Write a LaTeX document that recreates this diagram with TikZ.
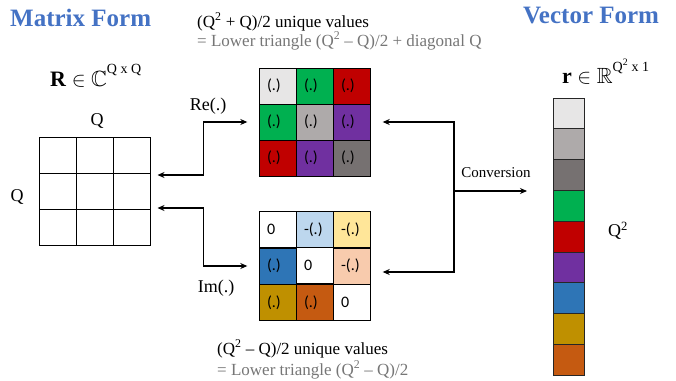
\documentclass[tikz,border=0pt]{standalone}
\usepackage{fontspec}
\usepackage{amssymb}
\setmainfont{Liberation Serif}
\newfontfamily\cellfont{Carlito}
\usetikzlibrary{matrix,arrows.meta}

\definecolor{titleblue}{HTML}{4472C4}
\definecolor{notegray}{HTML}{767676}
\definecolor{gLight}{HTML}{E7E6E6}
\definecolor{gMid}{HTML}{AEAAAA}
\definecolor{gDark}{HTML}{767171}
\definecolor{cGreen}{HTML}{00B050}
\definecolor{cRed}{HTML}{C00000}
\definecolor{cPurple}{HTML}{7030A0}
\definecolor{cBlue}{HTML}{2E75B6}
\definecolor{cLBlue}{HTML}{BDD7EE}
\definecolor{cLYellow}{HTML}{FFE699}
\definecolor{cPeach}{HTML}{F8CBAD}
\definecolor{cGold}{HTML}{BF9000}
\definecolor{cOrange}{HTML}{C55A11}

\tikzset{
  title/.style={font=\fontsize{25}{28}\selectfont\bfseries, text=titleblue, inner sep=0pt},
  note/.style={font=\fontsize{17}{20}\selectfont, inner sep=0pt},
  lbl/.style={font=\fontsize{18}{20}\selectfont, inner sep=0pt},
  valcell/.style={draw=black, line width=1pt, minimum height=36pt, text width=21pt,
    inner xsep=8pt, inner ysep=0pt, align=left, font=\cellfont\fontsize{16}{18}\selectfont},
  blank/.style={draw=black, line width=1pt, minimum width=37pt, minimum height=36pt, inner sep=0pt},
  vcell/.style={draw=black!85, line width=1pt, minimum width=31pt, minimum height=30.8pt, inner sep=0pt},
  biarrow/.style={line width=1.3pt, {Stealth[length=7pt,width=6pt]}-{Stealth[length=7pt,width=6pt]}},
  onearrow/.style={line width=1.3pt, -{Stealth[length=7pt,width=6pt]}}
}

\begin{document}
\begin{tikzpicture}[x=1pt,y=-1pt]
\useasboundingbox (0,0) rectangle (676,380);

% headings
\node[title, anchor=base west] (mf) at (10,26) {Matrix Form};
\node[title, anchor=base west] (vf) at (523,23) {Vector Form};

% notes on the real and imaginary parts
\node[note, anchor=base west] (n1) at (197,27) {(Q\textsuperscript{2} + Q)/2 unique values};
\node[note, anchor=base west, text=notegray] (n2) at (197,46) {= Lower triangle (Q\textsuperscript{2} -- Q)/2 + diagonal Q};
\node[note, anchor=base west] (n3) at (217,354) {(Q\textsuperscript{2} -- Q)/2 unique values};
\node[note, anchor=base west, text=notegray] (n4) at (217,375) {= Lower triangle (Q\textsuperscript{2} -- Q)/2};

% set memberships
\node[anchor=base west, inner sep=0pt, font=\fontsize{22}{26}\selectfont] (Rset) at (50,86)
  {\textbf{R} $\in$ $\mathbb{C}$\raisebox{13pt}{\fontsize{14}{16}\selectfont Q x Q}};
\node[anchor=base west, inner sep=0pt, font=\fontsize{22}{26}\selectfont] (rset) at (562,83)
  {\textbf{r} $\in$ $\mathbb{R}$\raisebox{12pt}{\fontsize{14}{16}\selectfont Q\textsuperscript{2} x 1}};

% complex matrix R
\foreach \r in {1,2,3}
  \foreach \c in {1,2,3}
    \node[blank] (m-\r-\c) at ({39+37*(\c-0.5)}, {137+36*(\r-0.5)}) {};
\node[lbl] (qtop) at (97,121) {Q};
\node[lbl] (qleft) at (17,197) {Q};

% real part
\matrix (re) [matrix of nodes, inner sep=0pt, column sep=-1pt, row sep=-1pt,
  nodes={valcell}] at (314.5,122) {
  |[fill=gLight]| (.) & |[fill=cGreen]| (.) & |[fill=cRed]| (.) \\
  |[fill=cGreen]| (.) & |[fill=gMid]| (.) & |[fill=cPurple]| (.) \\
  |[fill=cRed]| (.) & |[fill=cPurple]| (.) & |[fill=gDark]| (.) \\
};

% imaginary part
\matrix (im) [matrix of nodes, inner sep=0pt, column sep=-1pt, row sep=-1pt,
  nodes={valcell}] at (314.5,266) {
  |[fill=white]| 0 & |[fill=cLBlue]| -(.) & |[fill=cLYellow]| -(.) \\
  |[fill=cBlue]| (.) & |[fill=white]| 0 & |[fill=cPeach]| -(.) \\
  |[fill=cGold]| (.) & |[fill=cOrange]| (.) & |[fill=white]| 0 \\
};

% vector r
\foreach \col [count=\i] in {gLight,gMid,gDark,cGreen,cRed,cPurple,cBlue,cGold,cOrange}
  \node[vcell, fill=\col] (v\i) at (568.5, {98+30.8*(\i-0.5)}) {};
\node[lbl] (q2) at (618,231) {Q\textsuperscript{2}};

% splitting R into Re and Im
\draw[biarrow] ([xshift=-11pt]re.west) -| ([xshift=53pt,yshift=16pt]m-2-3.east)
  -- ([xshift=7pt,yshift=16pt]m-2-3.east);
\draw[biarrow] ([xshift=7pt,yshift=-17pt]m-2-3.east) -| ([xshift=53pt]m-2-3.east |- im.west)
  -- ([xshift=-11pt]im.west);
\node[lbl] (relbl) at (208,106) {Re(.)};
\node[lbl] (imlbl) at (216,288) {Im(.)};

% conversion to vector form
\coordinate (conv) at (454,191);
\draw[biarrow] ([xshift=12pt]re.east) -| (conv) |- ([xshift=12pt,yshift=-6pt]im.east);
\draw[onearrow] (conv) -- (527,191);
\node[font=\fontsize{15}{17}\selectfont, inner sep=0pt] (convlbl) at (496,173) {Conversion};
\end{tikzpicture}
\end{document}
